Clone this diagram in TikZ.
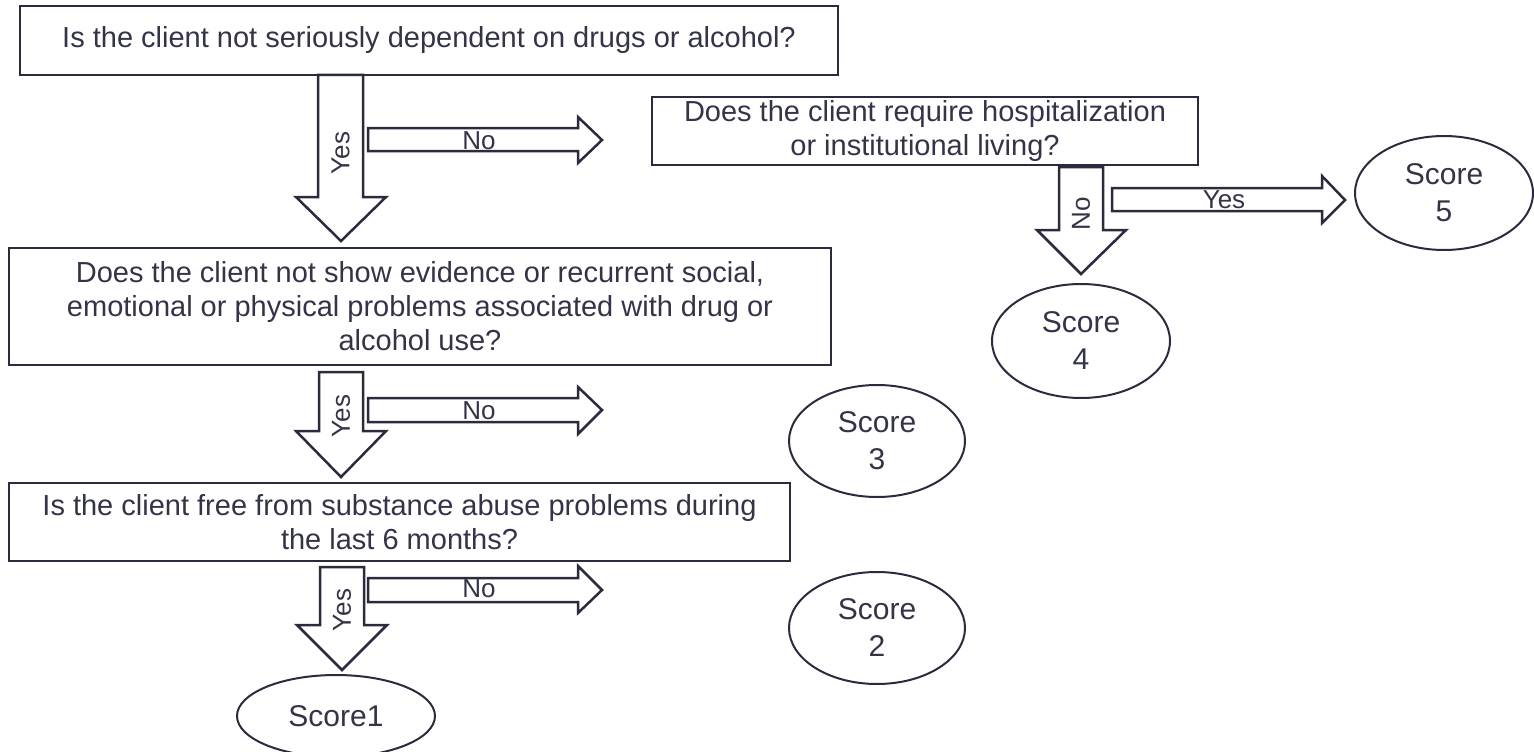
\documentclass[tikz,border=0pt]{standalone}
\usepackage{fontspec}
\setmainfont{Liberation Sans}
\usetikzlibrary{shapes.geometric}
\definecolor{inkline}{RGB}{43,43,62}
\definecolor{inktext}{RGB}{52,52,72}
\begin{document}
\begin{tikzpicture}[x=1pt,y=-1pt,
  qbox/.style={draw=inkline,line width=2.5pt,rectangle,inner sep=0pt,align=center,
    text=inktext,font=\fontsize{29}{34}\selectfont},
  scorebox/.style={draw=inkline,line width=2pt,ellipse,inner sep=0pt,align=center,
    text=inktext,font=\fontsize{30}{37}\selectfont},
  blk/.style={draw=inkline,line width=2.5pt,line join=miter,fill=white},
  lbl/.style={text=inktext,inner sep=0pt,font=\fontsize{26}{30}\selectfont}]
\useasboundingbox (0,0) rectangle (1534,752);

% question boxes
\node[qbox,minimum width=818,minimum height=69] (q1) at (429,40.5)
  {Is the client not seriously dependent on drugs or alcohol?};
\node[qbox,minimum width=546,minimum height=68] (q1b) at (925,131)
  {Does the client require hospitalization\\or institutional living?};
\node[qbox,minimum width=822,minimum height=117] (q2) at (420,306.5)
  {Does the client not show evidence or recurrent social,\\emotional or physical problems associated with drug or\\alcohol use?};
\node[qbox,minimum width=781,minimum height=78] (q3) at (399.5,522)
  {Is the client free from substance abuse problems during\\the last 6 months?};

% score outcomes
\node[scorebox,minimum width=178,minimum height=114] (s5) at (1444,193) {Score\\5};
\node[scorebox,minimum width=178,minimum height=114] (s4) at (1081,341) {Score\\4};
\node[scorebox,minimum width=176,minimum height=112] (s3) at (877,441) {Score\\3};
\node[scorebox,minimum width=176,minimum height=112] (s2) at (877,628) {Score\\2};
\node[scorebox,minimum width=198,minimum height=82] (s1) at (336,716) {Score1};

% block arrows, first question
\draw[blk] (318,75) -- (363,75) -- (363,197) -- (386,197) -- (341,241) -- (296,197) -- (318,197) -- cycle;
\node[lbl,rotate=90] (y1) at (340.5,153) {Yes};
\draw[blk] (368,128) -- (578,128) -- (578,117) -- (602,140) -- (578,163) -- (578,151) -- (368,151) -- cycle;
\node[lbl] (n1) at (479,141) {No};

% block arrows, hospitalization question
\draw[blk] (1059,167) -- (1103,167) -- (1103,230) -- (1126,230) -- (1081,274) -- (1037,230) -- (1059,230) -- cycle;
\node[lbl,rotate=90] (n1b) at (1081,214) {No};
\draw[blk] (1112,188) -- (1322,188) -- (1322,176) -- (1345,200) -- (1322,223) -- (1322,211) -- (1112,211) -- cycle;
\node[lbl] (y1b) at (1224,200) {Yes};

% block arrows, second question
\draw[blk] (319,372) -- (363,372) -- (363,431) -- (386,431) -- (341,477) -- (296,431) -- (319,431) -- cycle;
\node[lbl,rotate=90] (y2) at (341,416) {Yes};
\draw[blk] (368,398) -- (578,398) -- (578,387) -- (602,410) -- (578,434) -- (578,422) -- (368,422) -- cycle;
\node[lbl] (n2) at (479,411) {No};

% block arrows, third question
\draw[blk] (320,567) -- (364,567) -- (364,625) -- (387,625) -- (342,670) -- (297,625) -- (320,625) -- cycle;
\node[lbl,rotate=90] (y3) at (342,610) {Yes};
\draw[blk] (368,578) -- (578,578) -- (578,566) -- (602,590) -- (578,613) -- (578,602) -- (368,602) -- cycle;
\node[lbl] (n3) at (479,589) {No};
\end{tikzpicture}
\end{document}
